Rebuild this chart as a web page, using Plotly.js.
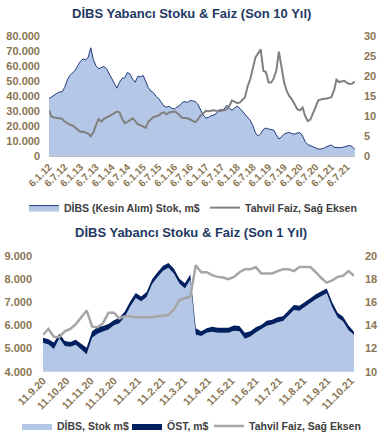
<!DOCTYPE html>
<html><head><meta charset="utf-8">
<script src="https://cdn.plot.ly/plotly-3.0.1.min.js"></script>
<style>html,body{margin:0;padding:0;background:#fff}#c{width:383px;height:441px}</style>
</head><body><div id="c"></div>
<script>
// ---- Chart 1: Son 10 Yıl (monthly readings, Jan 2012 .. Oct 2021) ----
const stock10 = [38500,39500,41000,42000,43000,43000,46000,51000,54000,55500,57500,60500,
63500,65000,64500,66000,72500,64500,60500,58500,59000,60000,58500,55000,
51500,48000,45500,49500,52000,52500,56000,55000,51500,49500,53500,53000,
54000,50000,46000,43500,42500,40000,38500,36000,33500,32800,33300,32000,
31500,33000,33800,36000,36500,36000,37200,37000,36500,34500,31000,27500,
25500,26000,27000,27500,28500,31000,31000,31500,34000,32000,30800,32000,
33500,32000,30000,28000,25800,24000,20500,15500,13500,15000,18000,18800,
18200,17800,17500,14300,11500,13000,14800,15500,16000,15000,14800,15500,
15800,13500,9700,7800,7000,6500,5800,4800,4800,5200,6200,7000,
7500,6000,5700,5700,5800,6300,6800,7200,6500,4500];
const rate10 = [11.5,9.9,9.7,9.6,9.5,9.4,8.7,8.2,7.9,7.7,7.1,6.5,
6.1,6.2,6.0,5.7,5.0,6.0,7.8,9.3,8.7,9.4,9.7,10.0,
10.3,10.8,11.2,11.0,9.4,8.3,8.6,9.0,9.5,8.8,8.0,7.8,
7.4,7.1,8.6,9.3,9.8,10.0,10.2,10.8,11.0,10.5,11.0,11.1,
11.2,10.9,10.2,9.6,9.6,9.5,9.2,8.8,8.5,9.3,10.2,10.7,
11.4,11.3,11.4,11.5,11.4,11.3,11.4,11.5,11.8,12.6,14.0,13.7,
13.3,13.5,14.1,14.8,17.5,19.3,22.0,24.8,25.8,26.8,21.4,21.1,
18.5,18.5,19.5,21.5,26.2,22.3,18.5,16.3,15.0,14.2,12.8,11.8,
11.5,12.2,10.1,8.8,9.2,10.6,12.3,14.0,14.3,14.4,14.4,14.6,
14.8,16.5,19.2,18.6,18.7,18.9,18.4,18.1,18.2,18.7];
const ticks10 = ['6.1.12','6.7.12','6.1.13','6.7.13','6.1.14','6.7.14','6.1.15','6.7.15',
'6.1.16','6.7.16','6.1.17','6.7.17','6.1.18','6.7.18','6.1.19','6.7.19','6.1.20','6.7.20','6.1.21','6.7.21'];

// ---- Chart 2: Son 1 Yıl (weekly readings, 11.9.20 .. 15.10.21) ----
const dibs1 = [5250,5180,4980,5450,5110,5080,5170,4950,4760,5470,5640,5740,5830,6010,6100,6380,
6820,7190,7050,7230,7790,8090,8370,8490,8230,7810,7600,7980,5600,5540,5680,5730,
5690,5690,5680,5770,5750,5430,5520,5700,5840,5990,6040,6140,6190,6440,6670,6640,
6790,6970,7130,7250,7390,6790,6340,6170,5790,5600];
const ost1 = [216,220,280,190,220,210,210,250,280,280,280,240,230,220,230,220,
230,210,200,220,210,210,210,210,220,210,220,220,280,210,200,210,
210,210,220,230,230,250,230,220,180,210,210,210,210,210,210,210,
210,210,220,210,210,210,210,210,210,130];
const rate1 = [13.2,13.7,13.0,13.0,13.5,13.7,14.1,14.7,15.3,13.9,13.85,14.2,15.1,15.1,14.6,14.8,
14.8,14.7,14.7,14.7,14.7,14.8,14.85,14.9,15.4,16.2,16.35,16.5,19.2,18.6,18.6,18.35,
18.2,18.15,18.0,18.2,18.6,18.85,18.85,19.05,18.5,18.5,18.5,18.7,18.85,18.85,18.7,19.05,
19.05,19.05,18.6,18.1,17.7,17.9,18.2,18.3,18.7,18.3];
const ticks1 = ['11.9.20','11.10.20','11.11.20','11.12.20','11.1.21','11.2.21','11.3.21',
'11.4.21','11.5.21','11.6.21','11.7.21','11.8.21','11.9.21','11.10.21'];

function pad(n){return (n<10?'0':'')+n;}
function lblToDate(s){const p=s.split('.');return '20'+p[2]+'-'+pad(+p[1])+'-'+pad(+p[0]);}
const dates10 = stock10.map((_,m)=>(2012+Math.floor(m/12))+'-'+pad(m%12+1)+'-06');
const start1 = Date.UTC(2020,8,11);
const dates1 = dibs1.map((_,i)=>{const d=new Date(start1+i*7*86400000);return d.getUTCFullYear()+'-'+pad(d.getUTCMonth()+1)+'-'+pad(d.getUTCDate());});

const W=383,H=441;
const px=v=>v/W, py=v=>1-v/H;
const FONT='Liberation Sans, Arial, sans-serif';
const tickCol='#8a7653';
const tf={family:FONT,size:11,color:tickCol,weight:700};
const lf={family:FONT,size:10.5,color:'#404040',weight:700};
function leg(x,y){return {orientation:'h',x:px(x),y:py(y),xanchor:'left',yanchor:'middle',font:lf,bgcolor:'rgba(0,0,0,0)'};}

const traces=[
 {x:dates10,y:stock10,type:'scatter',mode:'lines',fill:'tozeroy',fillcolor:'#b4c7e7',
  line:{color:'#1f3a7a',width:1},name:'DİBS (Kesin Alım) Stok, m$',xaxis:'x',yaxis:'y',legend:'legend'},
 {x:dates10,y:rate10,type:'scatter',mode:'lines',line:{color:'#808080',width:2},
  name:'Tahvil Faiz, Sağ Eksen',xaxis:'x',yaxis:'y2',legend:'legend2'},
 {x:dates1,y:dibs1,type:'scatter',mode:'lines',stackgroup:'s',fillcolor:'#b4c7e7',
  line:{width:0,color:'#b4c7e7'},name:'DİBS, Stok m$',xaxis:'x2',yaxis:'y3',legend:'legend3'},
 {x:dates1,y:ost1,type:'scatter',mode:'lines',stackgroup:'s',fillcolor:'#002060',
  line:{width:0,color:'#002060'},name:'ÖST, m$',xaxis:'x2',yaxis:'y3',legend:'legend4'},
 {x:dates1,y:rate1,type:'scatter',mode:'lines',line:{color:'#a6a6a6',width:2.5},
  name:'Tahvil Faiz, Sağ Eksen',xaxis:'x2',yaxis:'y4',legend:'legend5'}
];

const layout={
 width:W,height:H,margin:{l:0,r:0,t:0,b:0},paper_bgcolor:'#fff',plot_bgcolor:'rgba(0,0,0,0)',
 separators:',.',showlegend:true,font:{family:FONT},
 xaxis:{type:'date',domain:[px(49),px(355)],range:['2012-01-06','2021-10-08'],anchor:'y',
   tickvals:ticks10.map(lblToDate),ticktext:ticks10,tickangle:-45,
   tickfont:{family:FONT,size:10,color:tickCol,weight:700},showgrid:false,zeroline:false,
   showline:true,linecolor:'#bfbfbf',linewidth:1,ticks:''},
 yaxis:{domain:[py(158),py(37)],range:[0,80000],dtick:10000,tickformat:',d',showgrid:false,
   zeroline:false,tickfont:tf,ticklabelstandoff:8,anchor:'x'},
 yaxis2:{overlaying:'y',side:'right',range:[0,30],dtick:5,showgrid:false,zeroline:false,
   tickfont:tf,ticklabelstandoff:8,anchor:'x'},
 xaxis2:{type:'date',domain:[px(43),px(354)],range:['2020-09-11','2021-10-15'],anchor:'y3',
   tickvals:ticks1.map(lblToDate),ticktext:ticks1,tickangle:-45,
   tickfont:{family:FONT,size:10.5,color:tickCol,weight:700},showgrid:false,zeroline:false,
   showline:false,ticks:''},
 yaxis3:{domain:[py(376),py(259)],range:[4000,9000],dtick:1000,tickformat:',d',showgrid:false,
   zeroline:false,tickfont:tf,ticklabelstandoff:10,anchor:'x2'},
 yaxis4:{overlaying:'y3',side:'right',range:[10,20],dtick:2,showgrid:false,zeroline:false,
   tickfont:tf,ticklabelstandoff:10,anchor:'x2'},
 legend:leg(24,210),
 legend2:leg(205,210),
 legend3:leg(17,431),
 legend4:leg(127,431),
 legend5:leg(209,431),
 annotations:[
  {text:'DİBS Yabancı Stoku & Faiz (Son 10 Yıl)',xref:'paper',yref:'paper',x:px(192),y:py(14),
   showarrow:false,font:{family:FONT,size:13,color:'#1f3864',weight:700},xanchor:'center',yanchor:'middle'},
  {text:'DİBS Yabancı Stoku & Faiz (Son 1 Yıl)',xref:'paper',yref:'paper',x:px(191),y:py(235),
   showarrow:false,font:{family:FONT,size:13,color:'#1f3864',weight:700},xanchor:'center',yanchor:'middle'}
 ]
};
Plotly.newPlot('c',traces,layout,{staticPlot:true,displayModeBar:false});
</script></body></html>
